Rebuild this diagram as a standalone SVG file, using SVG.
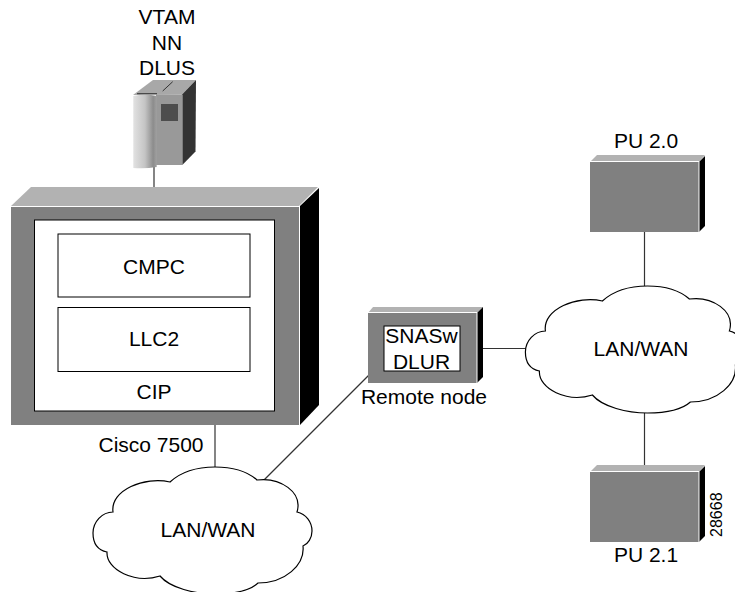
<svg xmlns="http://www.w3.org/2000/svg" width="735" height="592" viewBox="0 0 735 592">
<style>
text{font-family:"Liberation Sans",Arial,sans-serif;font-size:21px;fill:#000;text-anchor:middle}
.front{fill:#808080}
.top{fill:#b2b2b2}
.side{fill:#000}
.edge{fill:none;stroke:#fff;stroke-width:1}
.box{fill:#fff;stroke:#000;stroke-width:1}
.cloud{fill:#fff;stroke:#000;stroke-width:1.2}
.conn{fill:none;stroke:#333;stroke-width:1.2}
</style>
<defs>
<linearGradient id="cyl" x1="0" y1="0" x2="1" y2="0">
<stop offset="0" stop-color="#e2e2e2"/>
<stop offset="0.5" stop-color="#c4c4c4"/>
<stop offset="0.85" stop-color="#8c8c8c"/>
<stop offset="1" stop-color="#a0a0a0"/>
</linearGradient>
<path id="cloudShape" d="M170,482 C182,471 198,467 215,467 C233,467 248,472 257,480 C280,477 303,492 297,512 C306,514 312,522 312,531 C312,538 308,544 303,546 C305,565 285,583 258,583 C248,592 230,594 215,594 C195,594 170,588 160,576 C135,584 106,570 107,552 C97,550 93,542 93,533 C93,522 102,512 113,512 C110,490 145,476 170,482 Z"/>
</defs>
<g id="connectors">
<path class="conn" d="M154,165V187"/>
<path class="conn" d="M215,425V467"/>
<path class="conn" d="M264,480L370,374"/>
<path class="conn" d="M483,348.500H526"/>
<path class="conn" d="M644.500,232V286"/>
<path class="conn" d="M644.500,413V465"/>
</g>
<g id="vtam">
<text x="167" y="24">VTAM</text>
<text x="167" y="50">NN</text>
<text x="167" y="75">DLUS</text>
<polygon points="133,95 153,80 196,80 182,94.500" fill="#a8a8a8"/>
<polygon points="182.300,94.300 196,80 195.500,151.500 182.300,165" fill="#333"/>
<rect x="156" y="94.500" width="26.300" height="70.500" fill="#999"/>
<rect x="161" y="104" width="17" height="17" fill="#4d4d4d"/>
<path d="M133.300,96 Q145,93 156.700,96 V167 Q145,169 133.300,168 Z" fill="url(#cyl)"/>
<path d="M137,93.700H157M162.700,91L172.700,81.700" stroke="#333" stroke-width="1" fill="none"/>
</g>
<g id="cisco7500">
<polygon class="top" points="11,206 31,187 318,187 299,206"/>
<polygon class="side" points="300,206 319,188 319,405 300,425"/>
<rect class="front" x="11" y="207" width="288" height="218"/>
<path class="edge" d="M11,206.500H299.500V425"/>
<rect class="box" x="34.500" y="220" width="240" height="191"/>
<rect class="box" x="58" y="234" width="192" height="63"/>
<rect class="box" x="58" y="307.500" width="192" height="64"/>
<text x="154" y="274">CMPC</text>
<text x="154" y="346">LLC2</text>
<text x="154" y="399">CIP</text>
<text x="151" y="452">Cisco 7500</text>
</g>
<g id="remote-node">
<polygon class="top" points="368,313 373,307 483,307 477,313"/>
<polygon class="side" points="477,313 483,307 483,377 477,383"/>
<rect class="front" x="368" y="313" width="109" height="70"/>
<path class="edge" d="M368,312.500H477V383"/>
<rect class="box" x="384" y="326" width="76" height="45"/>
<text x="421.500" y="343">SNASw</text>
<text x="421.500" y="369">DLUR</text>
<text x="424" y="404">Remote node</text>
</g>
<g id="cloud-bottom">
<use href="#cloudShape" class="cloud"/>
<text x="208" y="537">LAN/WAN</text>
</g>
<g id="cloud-right">
<use href="#cloudShape" class="cloud" transform="translate(432.400,-181)"/>
<text x="641" y="356">LAN/WAN</text>
</g>
<g id="pu20">
<text x="646" y="148">PU 2.0</text>
<polygon class="top" points="590,162 597,155 705,155 699,162"/>
<polygon class="side" points="699,162 705,156 705,226 699,232"/>
<rect class="front" x="590" y="162" width="109" height="70"/>
<path class="edge" d="M590,161.500H699V232"/>
</g>
<g id="pu21">
<polygon class="top" points="590,472 597,465 705,465 699,472"/>
<polygon class="side" points="699,472 705,466 705,536 699,542"/>
<rect class="front" x="590" y="472" width="109" height="70"/>
<path class="edge" d="M590,471.500H699V542"/>
<text x="646" y="562">PU 2.1</text>
<text transform="translate(721.700,514.700) rotate(-90)" style="font-size:16px">28668</text>
</g>
</svg>
